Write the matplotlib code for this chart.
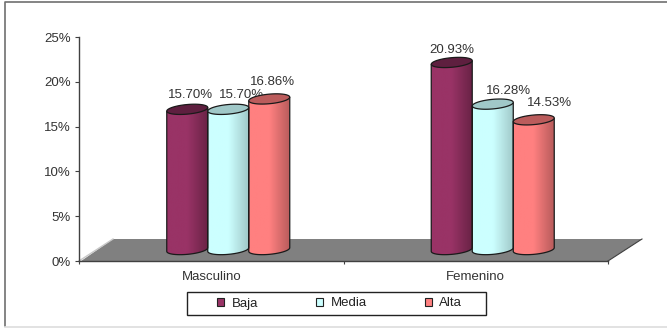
import matplotlib
matplotlib.use('Agg')
import matplotlib.pyplot as plt
import numpy as np
from matplotlib.patches import Patch, PathPatch, Polygon, Rectangle
from matplotlib.path import Path
from matplotlib.lines import Line2D
from matplotlib.colors import LinearSegmentedColormap

plt.rcParams['font.family'] = ['Liberation Sans', 'DejaVu Sans']

categories = ['Masculino', 'Femenino']
series_names = ['Baja', 'Media', 'Alta']
baja = [15.70, 20.93]
media = [15.70, 16.28]
alta = [16.86, 14.53]
yticks = [0, 5, 10, 15, 20, 25]

# left, right, top colour of the cylinders
colours = {'Baja': ('#993366', '#6a2346', '#5e1f3f'),
           'Media': ('#ccffff', '#a0c8c8', '#a0c8c8'),
           'Alta': ('#ff8080', '#b95c5c', '#bb5c5c')}
# label nudges in pixels (x, y above cylinder top)
nudge = {'Baja': [(3, 14), (0, 12)],
         'Media': [(13, 14), (16, 13)],
         'Alta': [(3, 17), (16, 17)]}

W, H = 667, 328
fig = plt.figure(figsize=(W / 100, H / 100), dpi=100)
ax = fig.add_axes([79 / W, (H - 261) / H, 529 / W, 224 / H])
ax.set_xlim(0, 2)
ax.set_ylim(0, 25)
ax.patch.set_alpha(0)

ux = 529 / 2     # px per category
uy = 224 / 25    # px per percent
dx, dy = 34 / ux, 22 / uy   # depth of the floor

# frame round the whole chart
fig.add_artist(Line2D([4.5 / W, 4.5 / W, 1], [(H - 326) / H, (H - 2) / H, (H - 2) / H],
                      color='#707070', lw=1.2))
fig.add_artist(Line2D([4.5 / W, 1], [(H - 326.5) / H, (H - 326.5) / H], color='#dddddd', lw=1.2))

# floor
ax.add_patch(Polygon([(0.008, 0), (2, 0), (2 + dx, dy), (dx, dy)], closed=True,
                     fc='#808080', ec='none', zorder=1, clip_on=False))
ax.plot([0, dx], [0, dy], color='#c8c8c8', lw=1, zorder=1, clip_on=False)
ax.plot([2, 2 + dx], [0, dy], color='#404040', lw=0.8, zorder=1, clip_on=False)

bar_w = 41 / ux
rx = bar_w / 2
ry = 4.8 / uy
tilt = 1.8 / uy
t = np.linspace(0, 2 * np.pi, 60)


def cylinder(cx, value, name):
    left, right, top = colours[name]
    base = dy / 2 + 0.05
    tip = value + dy / 2
    # body outline: up the left side, round the bottom
    tb = np.linspace(np.pi, 2 * np.pi, 30)
    xs = np.r_[cx - rx, cx + rx * np.cos(tb), cx + rx]
    ys = np.r_[tip - tilt, base + ry * np.sin(tb) + tilt * np.cos(tb), tip + tilt]
    body = Path(np.c_[xs, ys])
    cmap = LinearSegmentedColormap.from_list('c', [(0, left), (0.5, left), (1, right)], N=64)
    grad = np.linspace(0, 1, 64).reshape(1, -1)
    im = ax.imshow(grad, extent=(cx - rx, cx + rx, base - ry * 2, tip + tilt), aspect='auto',
                   cmap=cmap, vmin=0, vmax=1, zorder=3, clip_on=True)
    outline = PathPatch(body, fc='none', ec='#1a1a1a', lw=0.9, zorder=4, clip_on=False)
    ax.add_patch(outline)
    im.set_clip_path(outline)
    # top ellipse
    ex = cx + rx * np.cos(t)
    ey = tip + ry * np.sin(t) + tilt * np.cos(t)
    ax.fill(ex, ey, fc=top, ec='#1a1a1a', lw=0.9, zorder=5, clip_on=False)


groups = {'Baja': baja, 'Media': media, 'Alta': alta}
for k, name in enumerate(series_names):
    for i, val in enumerate(groups[name]):
        cx = i + 0.5 + dx / 2 + (k - 1) * bar_w
        cylinder(cx, val, name)
        # the Alta cylinder of Masculino sits over the Media label
        ax.annotate('%.2f%%' % val, (cx, val + dy / 2),
                    xytext=nudge[name][i], textcoords='offset pixels',
                    ha='center', va='center', fontsize=9.5, color='#333333',
                    zorder=4.5, annotation_clip=False)

ax.set_xlim(0, 2)
ax.set_ylim(0, 25)
for side in ['top', 'right']:
    ax.spines[side].set_visible(False)
for side in ['left', 'bottom']:
    ax.spines[side].set_color('#404040')
    ax.spines[side].set_linewidth(1.0)
    ax.spines[side].set_zorder(2)

ax.set_yticks(yticks)
ax.set_yticklabels(['%d%%' % v for v in yticks], fontsize=9.5, color='#333333')
ax.set_xticks([0, 1, 2])
ax.set_xticklabels([])
ax.set_xticks([0.5, 1.5], minor=True)
ax.set_xticklabels(categories, minor=True, fontsize=9.5, color='#333333')
ax.tick_params(axis='x', which='minor', length=0, pad=7)
ax.tick_params(axis='x', which='major', length=2, width=0.8, color='#404040')
ax.tick_params(axis='y', length=3, width=0.8, color='#404040', pad=3)

# legend box is wider than its content, so the frame is drawn apart
fig.add_artist(Rectangle((187 / W, (H - 315) / H), 299 / W, 23 / H, transform=fig.transFigure,
                         fc='white', ec='#222222', lw=1.0))
handles = [Patch(fc=colours[n][0], ec='#222222', lw=0.8) for n in series_names]
leg = fig.legend(handles, series_names, ncol=3, loc='center',
                 bbox_to_anchor=(339.5 / W, (H - 303.5) / H), fontsize=9.5,
                 frameon=False, handlelength=0.55, handleheight=0.55, handletextpad=0.55,
                 columnspacing=4.4, borderpad=0, labelcolor='#222222')

fig.savefig('out.png', dpi=100, facecolor='white')
